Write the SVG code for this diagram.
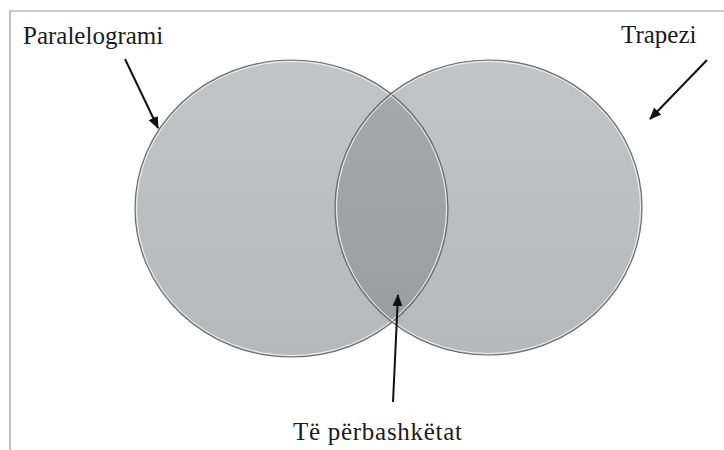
<svg xmlns="http://www.w3.org/2000/svg" width="724" height="450" viewBox="0 0 724 450">
<style>
.lbl{font-family:'Liberation Serif','Times New Roman','DejaVu Serif',serif;font-size:25px;fill:#1a1a1a}
.ring{fill:none;stroke:#6e6e6e;stroke-width:1.2}
.inner{fill:none;stroke:#f2f2f2;stroke-width:1}
.arr{stroke:#111;stroke-width:2;fill:none;marker-end:url(#ah)}
</style>
<defs>
<linearGradient id="gFill" x1="0" y1="0" x2="0" y2="1">
<stop offset="0" stop-color="#c3c4c6"/>
<stop offset="1" stop-color="#b7b8ba"/>
</linearGradient>
<linearGradient id="gOver" x1="0" y1="0" x2="0" y2="1">
<stop offset="0" stop-color="#a8a9ab"/>
<stop offset="1" stop-color="#9a9b9d"/>
</linearGradient>
<clipPath id="clipR">
<ellipse cx="488.5" cy="207.5" rx="153.5" ry="147.5"/>
</clipPath>
<marker id="ah" viewBox="0 0 12 10" refX="11" refY="5" markerWidth="12" markerHeight="10" markerUnits="userSpaceOnUse" orient="auto">
<path d="M0,0 L12,5 L0,10 Z" fill="#111"/>
</marker>
</defs>
<path d="M10,450 L10,11 L724,11" fill="none" stroke="#9a9a9a" stroke-width="1.2"/>
<g id="paralelogrami">
<ellipse cx="291.5" cy="208.5" rx="156.5" ry="148.5" fill="url(#gFill)"/>
<text class="lbl" font-family="Liberation Serif, DejaVu Serif, serif" x="23" y="44">Paralelogrami</text>
</g>
<g id="trapezi">
<ellipse cx="488.5" cy="207.5" rx="153.5" ry="147.5" fill="url(#gFill)"/>
<text class="lbl" font-family="Liberation Serif, DejaVu Serif, serif" x="621" y="43">Trapezi</text>
</g>
<g id="perbashketat">
<ellipse cx="291.5" cy="208.5" rx="156.5" ry="148.5" fill="url(#gOver)" clip-path="url(#clipR)"/>
<text class="lbl" font-family="Liberation Serif, DejaVu Serif, serif" x="293" y="440" textLength="169" lengthAdjust="spacing">Të përbashkëtat</text>
</g>
<g id="outlines">
<ellipse class="ring" cx="291.5" cy="208.5" rx="156.5" ry="148.5"/>
<ellipse class="inner" cx="291.5" cy="208.5" rx="155" ry="147"/>
<ellipse class="ring" cx="488.5" cy="207.5" rx="153.5" ry="147.5"/>
<ellipse class="inner" cx="488.5" cy="207.5" rx="152" ry="146"/>
</g>
<g id="connectors">
<line class="arr" x1="125" y1="59" x2="158" y2="128"/>
<line class="arr" x1="707" y1="60" x2="650" y2="119"/>
<line class="arr" x1="393" y1="402" x2="398" y2="295"/>
</g>
</svg>
